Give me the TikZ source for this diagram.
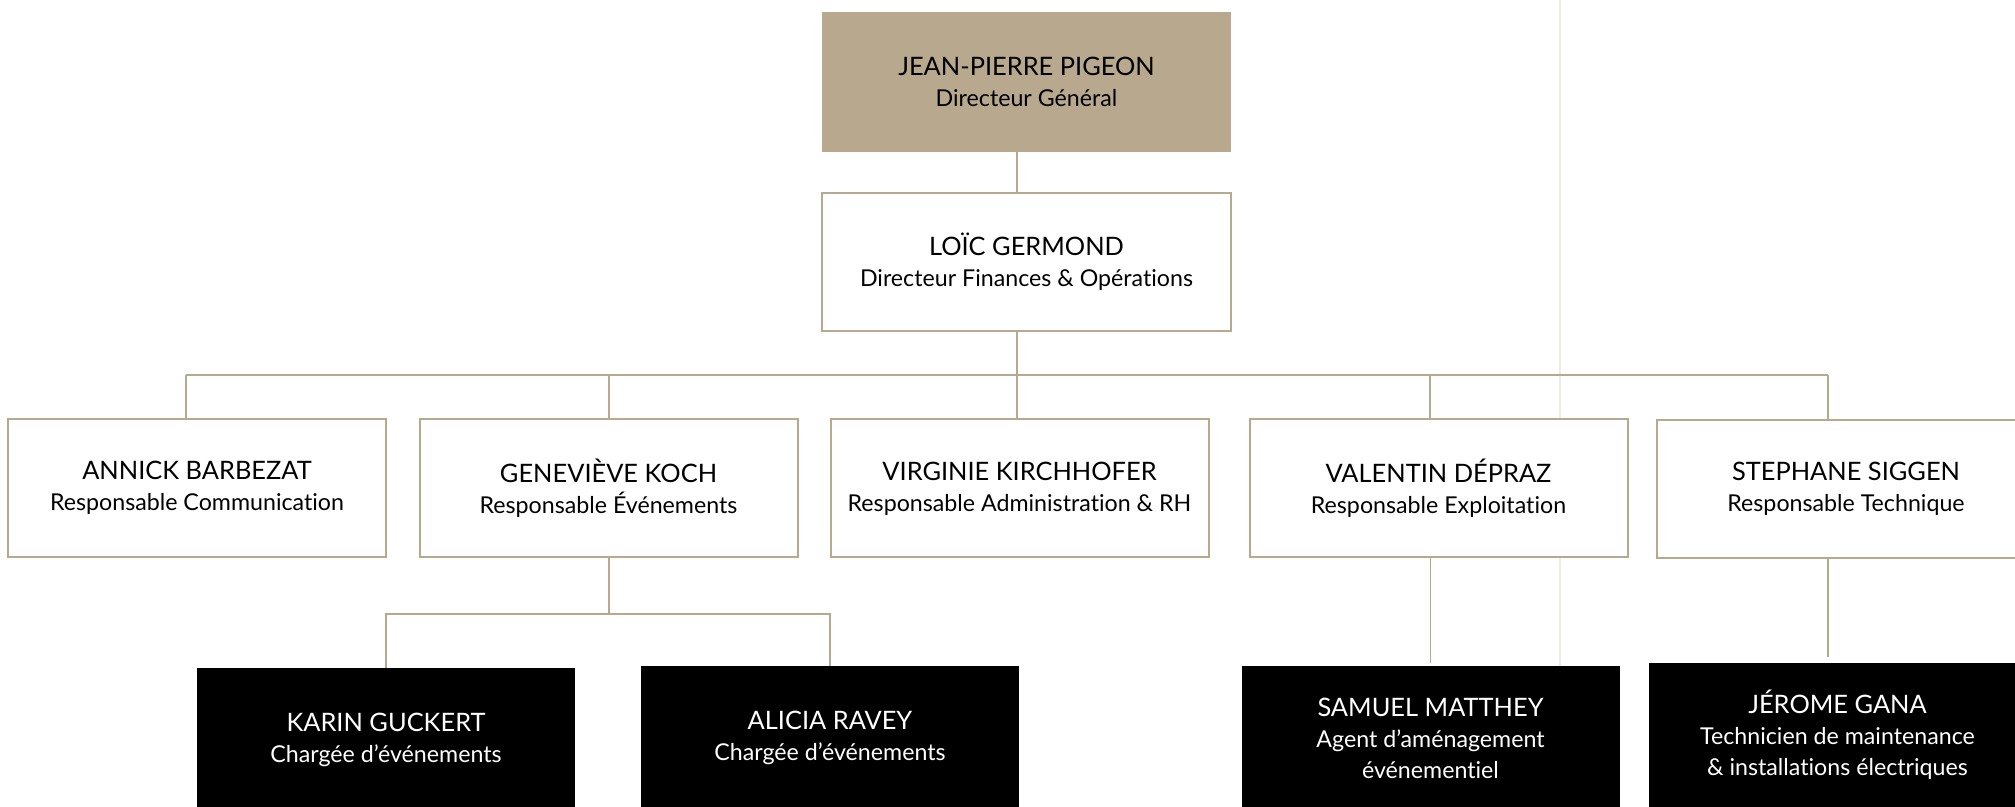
\documentclass[tikz,border=0pt]{standalone}
\usepackage{fontspec}
\setmainfont{Lato}[Ligatures=NoCommon]
\usepackage{tikz}
\definecolor{sable}{RGB}{183,168,142}
\definecolor{fold}{RGB}{238,236,232}
\tikzset{
    every node/.style={rectangle, inner sep=0pt, outer sep=0pt, align=center,
    	minimum width=189pt, minimum height=69pt,
    	font=\fontsize{11.6}{15.5}\selectfont}
}
\tikzset{whitebox/.style={draw=sable, line width=1pt, fill=white}}
\tikzset{headbox/.style={fill=sable, minimum width=204.5pt, minimum height=70pt}}
\tikzset{darkbox/.style={fill=black, text=white, minimum height=72pt}}
\tikzset{link/.style={draw=sable, line width=0.8pt}}
\newcommand{\nm}[1]{{\fontsize{12.7}{15.5}\selectfont #1}\\}

\begin{document}
\begin{tikzpicture}[x=0.5pt, y=-0.5pt]
  \useasboundingbox (0,0) rectangle (2015,807);
  \draw[fold, line width=1pt] (1560,0) -- (1560,807);

  \node (d_g) [headbox] at (1026.5,82) {\nm{JEAN-PIERRE PIGEON}Directeur Général};
  \node (d_f) [whitebox, minimum width=204.5pt] at (1026.5,262) {\nm{LOÏC GERMOND}Directeur Finances \& Opérations};

  \node (r_com) [whitebox] at (197,488) {\nm{ANNICK BARBEZAT}Responsable Communication};
  \node (r_evt) [whitebox] at (608.5,488) {\nm{GENEVIÈVE KOCH}Responsable Événements};
  \node (r_adm) [whitebox] at (1019.5,488.5) {\nm{VIRGINIE KIRCHHOFER}Responsable Administration \& RH};
  \node (r_exp) [whitebox] at (1438.5,488.5) {\nm{VALENTIN DÉPRAZ}Responsable Exploitation};
  \node (r_tec) [whitebox] at (1846,489) {\nm{STEPHANE SIGGEN}Responsable Technique};

  \node (c_kg) [darkbox] at (386,740) {\nm{KARIN GUCKERT}Chargée d’événements};
  \node (c_ar) [darkbox] at (830,738) {\nm{ALICIA RAVEY}Chargée d’événements};
  \node (c_sm) [darkbox] at (1430.5,738) {\nm{SAMUEL MATTHEY}Agent d’aménagement\\événementiel};
  \node (c_jg) [darkbox] at (1837.5,735) {\nm{JÉROME GANA}Technicien de maintenance\\\& installations électriques};

  \coordinate (trunk) at (1017,375);
  \coordinate (b_com) at (186,375);
  \coordinate (b_evt) at (609,375);
  \coordinate (b_adm) at (1017,375);
  \coordinate (b_exp) at (1430,375);
  \coordinate (b_tec) at (1828,375);
  \coordinate (e_bus) at (609,614);

  \draw[link] (d_g.south -| trunk) -- (d_f.north -| trunk);
  \draw[link] (d_f.south -| trunk) -- (trunk);
  \draw[link] (b_com) -- (b_tec);
  \foreach \r/\b in {r_com/b_com, r_evt/b_evt, r_adm/b_adm, r_exp/b_exp, r_tec/b_tec}
    \draw[link] (\b) -- (\b |- \r.north);

  \draw[link] (r_evt.south -| e_bus) -- (e_bus);
  \draw[link] (c_kg.north) -- (c_kg.north |- e_bus) -- (c_ar.north |- e_bus) -- (c_ar.north);
  \draw[link, shorten >=1.5pt] (r_exp.south -| c_sm.north) -- (c_sm.north);
  \draw[link, shorten >=3pt] (r_tec.south -| b_tec) -- (c_jg.north -| b_tec);
\end{tikzpicture}
\end{document}
